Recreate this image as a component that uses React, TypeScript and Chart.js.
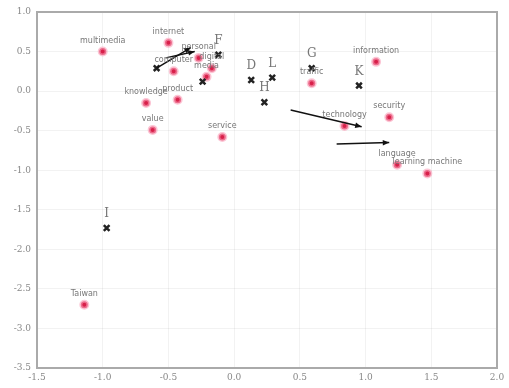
import { useEffect, useRef } from "react";
import { Chart, registerables } from "chart.js";

Chart.register(...registerables);

const xTicksMin = -1.5;
const xTicksMax = 2.0;
const yTicksMin = -3.5;
const yTicksMax = 1.0;
const tickStep = 0.5;

const wordLabels = ["multimedia", "internet", "personal", "digital", "computer", "media", "knowledge", "product", "value", "service", "Taiwan", "traffic", "information", "security", "technology", "language", "learning machine"];
const wordX = [-1.0, -0.5, -0.27, -0.17, -0.46, -0.21, -0.67, -0.43, -0.62, -0.09, -1.14, 0.59, 1.08, 1.18, 0.84, 1.24, 1.47];
const wordY = [0.5, 0.61, 0.42, 0.29, 0.25, 0.18, -0.15, -0.11, -0.49, -0.58, -2.7, 0.1, 0.37, -0.33, -0.44, -0.93, -1.04];

const letterLabels = ["", "", "F", "D", "L", "H", "G", "K", "I"];
const letterX = [-0.59, -0.24, -0.12, 0.13, 0.29, 0.23, 0.59, 0.95, -0.97];
const letterY = [0.29, 0.12, 0.46, 0.14, 0.17, -0.14, 0.29, 0.07, -1.73];

const arrowStartX = [-0.59, -0.52, 0.43, 0.78];
const arrowStartY = [0.29, 0.42, -0.24, -0.67];
const arrowEndX = [-0.33, -0.3, 0.97, 1.18];
const arrowEndY = [0.55, 0.5, -0.45, -0.65];

const labelPlugin = {
  id: "pointLabels",
  afterDatasetsDraw(chart: any) {
    const ctx = chart.ctx;
    chart.data.datasets.forEach((ds: any, di: number) => {
      if (!ds.pointLabels) return;
      const meta = chart.getDatasetMeta(di);
      ctx.save();
      ctx.font = ds.labelFont;
      ctx.fillStyle = ds.labelColor;
      ctx.textAlign = "center";
      ctx.textBaseline = "bottom";
      meta.data.forEach((el: any, i: number) => {
        ctx.fillText(ds.pointLabels[i], el.x, el.y - ds.labelOffset);
      });
      ctx.restore();
    });
  },
};

const arrowPlugin = {
  id: "arrowHeads",
  afterDatasetsDraw(chart: any) {
    const ctx = chart.ctx;
    chart.data.datasets.forEach((ds: any, di: number) => {
      if (!ds.isArrow) return;
      const meta = chart.getDatasetMeta(di);
      const a = meta.data[0];
      const b = meta.data[1];
      const ang = Math.atan2(b.y - a.y, b.x - a.x);
      const len = 7;
      ctx.save();
      ctx.fillStyle = "#111";
      ctx.beginPath();
      ctx.moveTo(b.x, b.y);
      ctx.lineTo(b.x - len * Math.cos(ang - 0.4), b.y - len * Math.sin(ang - 0.4));
      ctx.lineTo(b.x - len * Math.cos(ang + 0.4), b.y - len * Math.sin(ang + 0.4));
      ctx.closePath();
      ctx.fill();
      ctx.restore();
    });
  },
};

const framePlugin = {
  id: "frame",
  afterDraw(chart: any) {
    const { ctx, chartArea } = chart;
    ctx.save();
    ctx.strokeStyle = "#aaa";
    ctx.lineWidth = 2;
    ctx.strokeRect(chartArea.left, chartArea.top, chartArea.right - chartArea.left, chartArea.bottom - chartArea.top);
    ctx.restore();
  },
};

export default function App() {
  const ref = useRef<HTMLCanvasElement>(null);
  useEffect(() => {
    document.body.style.margin = "0";
    const arrowSets = arrowStartX.map((sx, i) => ({
      type: "line" as const,
      data: [
        { x: sx, y: arrowStartY[i] },
        { x: arrowEndX[i], y: arrowEndY[i] },
      ],
      borderColor: "#111",
      borderWidth: 1.5,
      pointRadius: 0,
      showLine: true,
      isArrow: true,
    }));
    const chart = new Chart(ref.current!, {
      type: "scatter",
      data: {
        datasets: [
          ...arrowSets,
          {
            data: letterX.map((x, i) => ({ x, y: letterY[i] })),
            pointStyle: "crossRot",
            pointRadius: 4,
            borderColor: "#222",
            borderWidth: 2.5,
            backgroundColor: "#222",
            pointLabels: letterLabels,
            labelFont: "12px 'DejaVu Serif'",
            labelColor: "#777",
            labelOffset: 8,
          },
          {
            data: wordX.map((x, i) => ({ x, y: wordY[i] })),
            pointStyle: "circle",
            pointRadius: 3.5,
            backgroundColor: "#d8204a",
            borderColor: "rgba(250,160,185,0.6)",
            borderWidth: 3,
            pointLabels: wordLabels,
            labelFont: "8px 'DejaVu Sans'",
            labelColor: "#777",
            labelOffset: 7,
          },
        ] as any,
      },
      options: {
        animation: false,
        responsive: false,
        layout: { padding: { top: 12, right: 12, left: 0, bottom: 0 } },
        plugins: { legend: { display: false }, tooltip: { enabled: false } },
        scales: {
          x: {
            type: "linear",
            min: xTicksMin,
            max: xTicksMax,
            afterFit: (s: any) => {
              s.height = 20;
            },
            ticks: {
              stepSize: tickStep,
              color: "#888",
              font: { size: 9, family: "DejaVu Serif" },
              callback: (v: any) => Number(v).toFixed(1),
              padding: 4,
            },
            grid: { color: "rgba(0,0,0,0.05)", drawTicks: false },
            border: { color: "#aaa", width: 2 },
          },
          y: {
            type: "linear",
            min: yTicksMin,
            max: yTicksMax,
            afterFit: (s: any) => {
              s.width = 37;
            },
            ticks: {
              stepSize: tickStep,
              color: "#888",
              font: { size: 9, family: "DejaVu Serif" },
              callback: (v: any) => Number(v).toFixed(1),
              padding: 6,
            },
            grid: { color: "rgba(0,0,0,0.05)", drawTicks: false },
            border: { color: "#aaa", width: 2 },
          },
        },
      },
      plugins: [labelPlugin, arrowPlugin, framePlugin],
    });
    return () => chart.destroy();
  }, []);
  return <canvas ref={ref} width={509} height={388} />;
}
